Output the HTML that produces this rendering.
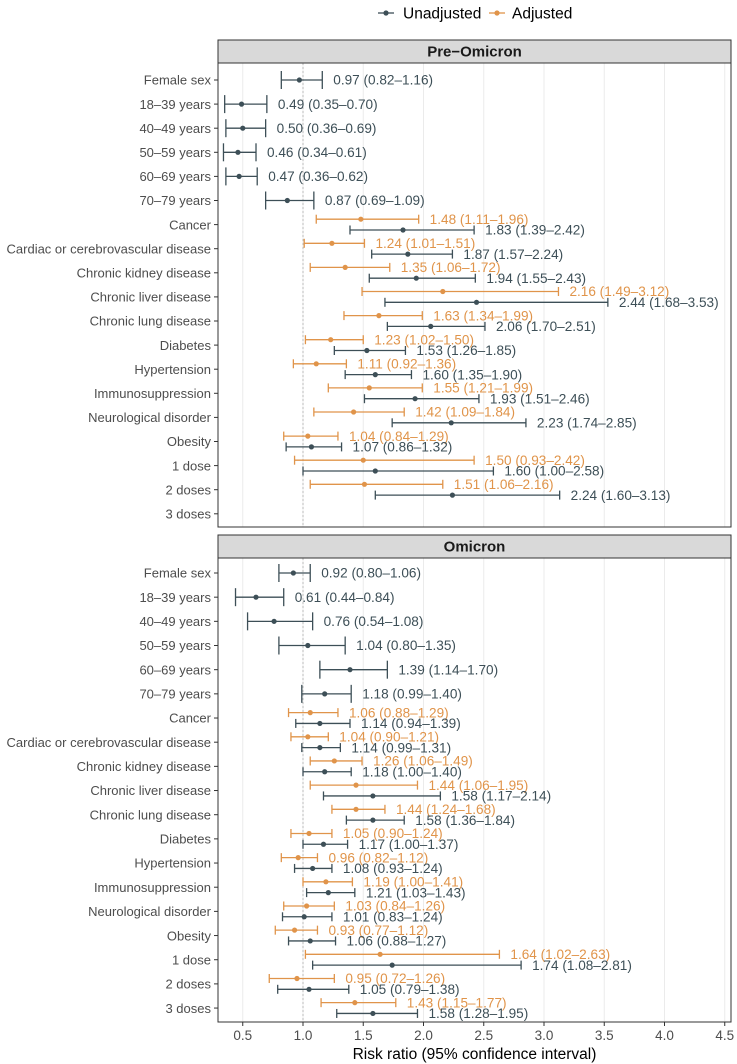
<!DOCTYPE html>
<html><head><meta charset="utf-8"><style>
body{margin:0;background:#fff;font-family:"Liberation Sans",sans-serif}
svg{display:block}
</style></head><body>
<svg id="c" width="737" height="1064" xmlns="http://www.w3.org/2000/svg"></svg>
<script>
const categories=["Female sex","18–39 years","40–49 years","50–59 years","60–69 years","70–79 years","Cancer","Cardiac or cerebrovascular disease","Chronic kidney disease","Chronic liver disease","Chronic lung disease","Diabetes","Hypertension","Immunosuppression","Neurological disorder","Obesity","1 dose","2 doses","3 doses"];
const xTicks=[0.5,1.0,1.5,2.0,2.5,3.0,3.5,4.0,4.5];
// [est, lo, hi] or null
const preUnadj=[[0.97,0.82,1.16],[0.49,0.35,0.70],[0.50,0.36,0.69],[0.46,0.34,0.61],[0.47,0.36,0.62],[0.87,0.69,1.09],[1.83,1.39,2.42],[1.87,1.57,2.24],[1.94,1.55,2.43],[2.44,1.68,3.53],[2.06,1.70,2.51],[1.53,1.26,1.85],[1.60,1.35,1.90],[1.93,1.51,2.46],[2.23,1.74,2.85],[1.07,0.86,1.32],[1.60,1.00,2.58],[2.24,1.60,3.13],null];
const preAdj=[null,null,null,null,null,null,[1.48,1.11,1.96],[1.24,1.01,1.51],[1.35,1.06,1.72],[2.16,1.49,3.12],[1.63,1.34,1.99],[1.23,1.02,1.50],[1.11,0.92,1.36],[1.55,1.21,1.99],[1.42,1.09,1.84],[1.04,0.84,1.29],[1.50,0.93,2.42],[1.51,1.06,2.16],null];
const omiUnadj=[[0.92,0.80,1.06],[0.61,0.44,0.84],[0.76,0.54,1.08],[1.04,0.80,1.35],[1.39,1.14,1.70],[1.18,0.99,1.40],[1.14,0.94,1.39],[1.14,0.99,1.31],[1.18,1.00,1.40],[1.58,1.17,2.14],[1.58,1.36,1.84],[1.17,1.00,1.37],[1.08,0.93,1.24],[1.21,1.03,1.43],[1.01,0.83,1.24],[1.06,0.88,1.27],[1.74,1.08,2.81],[1.05,0.79,1.38],[1.58,1.28,1.95]];
const omiAdj=[null,null,null,null,null,null,[1.06,0.88,1.29],[1.04,0.90,1.21],[1.26,1.06,1.49],[1.44,1.06,1.95],[1.44,1.24,1.68],[1.05,0.90,1.24],[0.96,0.82,1.12],[1.19,1.00,1.41],[1.03,0.84,1.26],[0.93,0.77,1.12],[1.64,1.02,2.63],[0.95,0.72,1.26],[1.43,1.15,1.77]];

const NS="http://www.w3.org/2000/svg",svg=document.getElementById('c');
const GREY="#3d4f57",ORANGE="#e0944a";
const L=218,R=731;
const x=v=>303+(v-1)*120.5;
function el(t,a,p){const e=document.createElementNS(NS,t);for(const k in a)e.setAttribute(k,a[k]);(p||svg).appendChild(e);return e;}
const f=n=>n.toFixed(2);
function panel(name,title,top,bottom,rowTop,step,unadj,adj){
  const g=el('g',{});
  
  
  const st=el('rect',{x:L,y:top,width:R-L,height:23,fill:'#d9d9d9',stroke:'#333','stroke-width':1},g);
  
  
  const tt=el('text',{x:(L+R)/2,y:top+16.5,'text-anchor':'middle','font-size':15,'font-weight':'bold',fill:'#1a1a1a'},g);
  tt.textContent=title;
  
  
  const y0=top+23;
  xTicks.forEach(t=>{const gl=el('line',{x1:x(t),x2:x(t),y1:y0,y2:bottom,stroke:'#ebebeb','stroke-width':1},g);
    });
  const ref=el('line',{x1:x(1),x2:x(1),y1:y0,y2:bottom,stroke:'#bbb','stroke-width':1,'stroke-dasharray':'2,2'},g);
  
  const fr=el('rect',{x:L,y:y0,width:R-L,height:bottom-y0,fill:'none',stroke:'#333','stroke-width':1},g);
  
  categories.forEach((c,i)=>{
    const yc=rowTop+step*i;
    const lb=el('text',{x:L-7,y:yc+4.7,'text-anchor':'end','font-size':13,fill:'#4d4d4d'},g);
    lb.textContent=c;
    
    el('line',{x1:L-4,x2:L,y1:yc,y2:yc,stroke:'#333'},g);
    const a=adj[i],u=unadj[i];
    const rows=[];
    if(a&&u){rows.push([a,yc-5.4,ORANGE,4.5,'adjusted']);rows.push([u,yc+5.4,GREY,4.5,'unadjusted']);}
    else if(u)rows.push([u,yc,GREY,9,'unadjusted']);
    rows.forEach(([d,yy,col,h,s])=>{
      const gg=el('g',{stroke:col,'stroke-width':1.3},g);
      
      
      el('line',{x1:x(d[1]),x2:x(d[2]),y1:yy,y2:yy},gg);
      el('line',{x1:x(d[1]),x2:x(d[1]),y1:yy-h,y2:yy+h},gg);
      el('line',{x1:x(d[2]),x2:x(d[2]),y1:yy-h,y2:yy+h},gg);
      el('circle',{cx:x(d[0]),cy:yy,r:2.6,fill:col,stroke:'none'},gg);
      const t=el('text',{x:x(d[2])+11,y:yy+4.7,'font-size':13.6,fill:col,stroke:'none'},g);
      t.textContent=f(d[0])+' ('+f(d[1])+'–'+f(d[2])+')';
      
      
    });
  });
}
panel('pre-omicron','Pre−Omicron',40,527,80,24.1,preUnadj,preAdj);
panel('omicron','Omicron',535,1022,573,24.17,omiUnadj,omiAdj);
xTicks.forEach(t=>{
  el('line',{x1:x(t),x2:x(t),y1:1022,y2:1026,stroke:'#333'});
  const tl=el('text',{x:x(t),y:1040,'text-anchor':'middle','font-size':13.5,fill:'#4d4d4d'});
  tl.textContent=t.toFixed(1);
  
  
});
const xt=el('text',{x:(L+R)/2,y:1059,'text-anchor':'middle','font-size':15.5,fill:'#000'});
xt.textContent='Risk ratio (95% confidence interval)';


// legend
const lg=el('g',{});


[[GREY,378,'Unadjusted',403],[ORANGE,489,'Adjusted',512]].forEach(([c,lx,txt,tx])=>{
  const e=el('g',{},lg);
  
  
  el('line',{x1:lx,x2:lx+16,y1:13,y2:13,stroke:c,'stroke-width':1.3},e);
  el('circle',{cx:lx+8,cy:13,r:2.6,fill:c},e);
  const t=el('text',{x:tx,y:18.5,'font-size':15.5,fill:'#000'},e);t.textContent=txt;
});
</script>
</body></html>
